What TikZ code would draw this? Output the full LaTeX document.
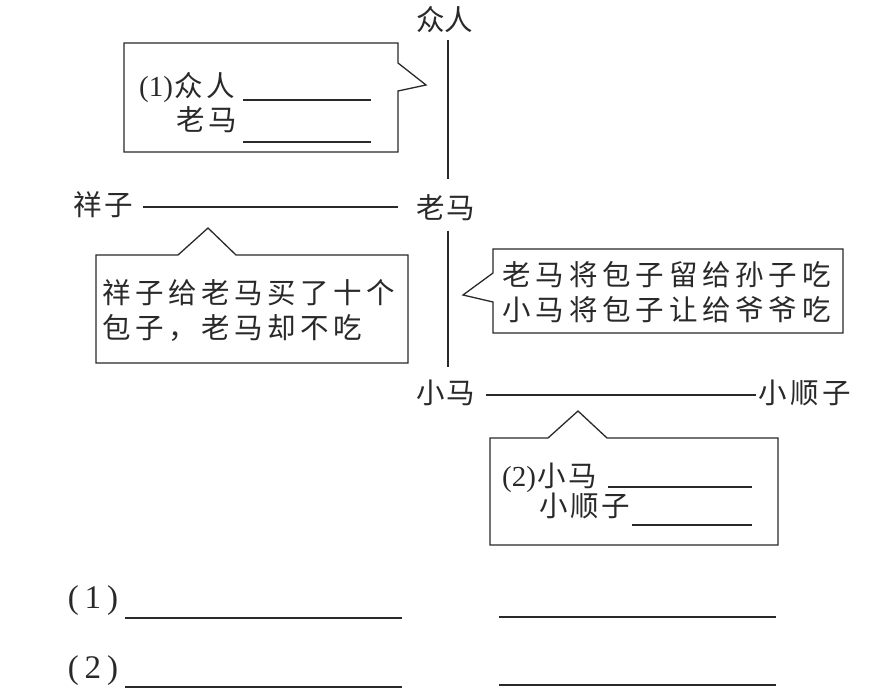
\documentclass[tikz,border=0pt]{standalone}
\usepackage{fontspec}
\setmainfont{Liberation Serif}
\newfontfamily\cjk{Noto Sans CJK SC}
\definecolor{ink}{rgb}{0.16,0.16,0.16}
\newcommand\spreadtxt[2]{\def\spw{#1}\spreadaux#2\relax}
\def\spreadaux#1{\ifx\relax#1\else\makebox[\spw][c]{#1}\expandafter\spreadaux\fi}
\begin{document}
\begin{tikzpicture}[x=1pt,y=-1pt,
  txt/.style={inner sep=0pt,text=ink,font=\fontsize{28.5}{32}\selectfont\cjk,text height=22pt,text depth=5pt},
  ln/.style={draw=ink,line width=1.2pt},
  bx/.style={draw=ink,line width=1.3pt,line join=miter},
  blank/.style={draw=ink,line width=1.1pt}]
\useasboundingbox[fill=white] (0,0) rectangle (877,698);

% labels
\node[txt] (zr) at (445,22) {\spreadtxt{28pt}{众人}};
\node[txt] (lm) at (446,210) {\spreadtxt{30pt}{老马}};
\node[txt] (xz) at (103,207) {\spreadtxt{31pt}{祥子}};
\node[txt] (xm) at (446,395) {\spreadtxt{30pt}{小马}};
\node[txt] (xsz) at (805,395) {\spreadtxt{32pt}{小顺子}};

% connectors
\draw[ln,shorten <=4pt,shorten >=17pt] ([xshift=3pt]zr.south) -- ([xshift=2pt]lm.north);
\draw[ln,shorten <=7pt,shorten >=14pt] ([xshift=2pt]lm.south) -- ([xshift=2pt]xm.north);
\draw[ln,shorten <=9pt,shorten >=18pt] (xz.east) -- (lm.west|-xz.east);
\draw[ln,shorten <=10pt,shorten >=1pt] (xm.east) -- (xsz.west|-xm.east);

% box 1
\draw[bx] (124,43) -- (398,43) -- (398,63) -- (426,85) -- (398,91) -- (398,152) -- (124,152) -- cycle;
\node[txt,anchor=west] (b1a) at (139,88) {{\rmfamily\fontsize{29}{32}\selectfont(1)}\spreadtxt{32pt}{众人}};
\node[txt,anchor=west] (b1b) at (175,122) {\spreadtxt{32pt}{老马}};
\draw[blank] (243,100) -- (371,100);
\draw[blank] (243,142) -- (371,142);

% box 2
\draw[bx] (96,255) -- (178,255) -- (208,228) -- (236,255) -- (408,255) -- (408,363) -- (96,363) -- cycle;
\node[txt,anchor=west] (b2a) at (100,295) {\spreadtxt{33pt}{祥子给老马买了十个}};
\node[txt,anchor=west] (b2b) at (100,330) {\spreadtxt{33pt}{包子，老马却不吃}};

% box 3
\draw[bx] (493,249) -- (843,249) -- (843,333) -- (493,333) -- (493,302) -- (463,295) -- (493,273) -- cycle;
\node[txt,anchor=west] (b3a) at (500,277) {\spreadtxt{33.3pt}{老马将包子留给孙子吃}};
\node[txt,anchor=west] (b3b) at (500,312) {\spreadtxt{33.3pt}{小马将包子让给爷爷吃}};

% box 4
\draw[bx] (490,438) -- (548,438) -- (578,411) -- (607,438) -- (778,438) -- (778,545) -- (490,545) -- cycle;
\node[txt,anchor=west] (b4a) at (502,478) {{\rmfamily\fontsize{29}{32}\selectfont(2)}\spreadtxt{31pt}{小马}};
\node[txt,anchor=west] (b4b) at (538,508) {\spreadtxt{31pt}{小顺子}};
\draw[blank] (608,487) -- (752,487);
\draw[blank] (632,525) -- (752,525);

% answer lines
\node[txt,font=\fontsize{33}{36}\selectfont\rmfamily] (q1) at (93,600) {(\hspace{6pt}1\hspace{6pt})};
\node[txt,font=\fontsize{33}{36}\selectfont\rmfamily] (q2) at (93,670) {(\hspace{6pt}2\hspace{6pt})};
\draw[blank] (125,618) -- (402,618);
\draw[blank] (499,617) -- (776,617);
\draw[blank] (125,687) -- (402,687);
\draw[blank] (499,685) -- (776,685);
\end{tikzpicture}
\end{document}
